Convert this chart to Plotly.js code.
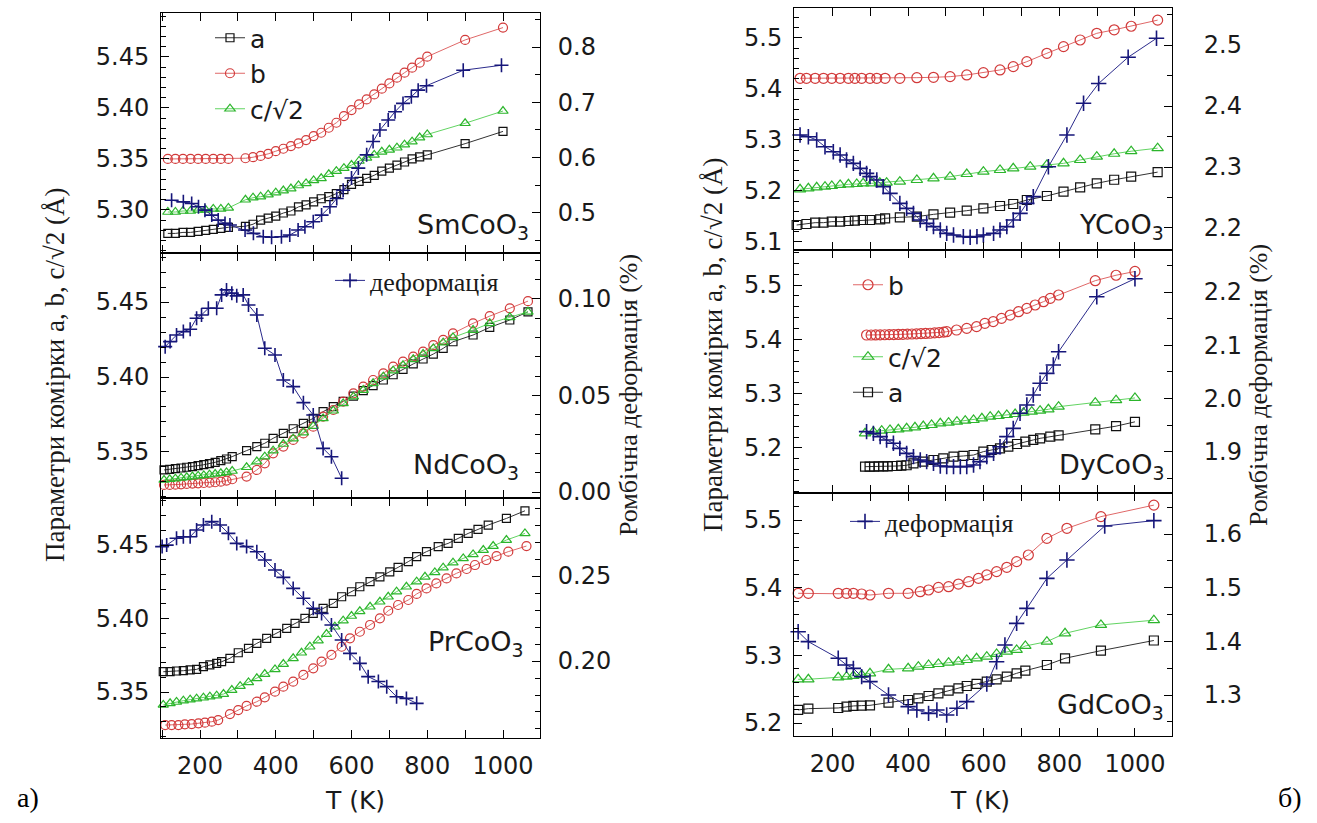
<!DOCTYPE html>
<html>
<head>
<meta charset="utf-8">
<script src="https://cdn.plot.ly/plotly-3.0.1.min.js"></script>
<style>
  html, body { margin: 0; padding: 0; background: #ffffff; }
  #chart { width: 1317px; height: 823px; }
</style>
</head>
<body>
<div id="chart"></div>
<script>
// ---------------- DATA ----------------
const seriesNames = ['a', 'b', 'c/√2', 'деформація'];
const compounds = ['SmCoO<sub>3</sub>', 'NdCoO<sub>3</sub>', 'PrCoO<sub>3</sub>', 'YCoO<sub>3</sub>', 'DyCoO<sub>3</sub>', 'GdCoO<sub>3</sub>'];

// SmCoO3
const sm_T = [115,135,155,175,195,215,235,255,275,320,340,360,380,400,420,440,460,480,500,520,540,560,580,600,620,640,660,680,700,720,740,760,780,800,900,1000];
const sm_a = [5.277,5.277,5.278,5.278,5.279,5.280,5.281,5.282,5.283,5.284,5.286,5.290,5.292,5.294,5.297,5.299,5.303,5.305,5.308,5.311,5.313,5.316,5.320,5.325,5.328,5.331,5.334,5.338,5.341,5.344,5.347,5.350,5.352,5.354,5.365,5.377];
const sm_b = [5.350,5.350,5.350,5.350,5.350,5.350,5.350,5.350,5.350,5.3507,5.3517,5.353,5.355,5.3576,5.360,5.3626,5.3652,5.3685,5.3724,5.3757,5.3806,5.3855,5.392,5.3979,5.4035,5.4084,5.4133,5.4189,5.4241,5.4297,5.4346,5.4395,5.4444,5.4503,5.4667,5.4788];
const sm_c = [5.298,5.298,5.299,5.299,5.300,5.300,5.301,5.301,5.302,5.310,5.312,5.313,5.315,5.317,5.319,5.321,5.324,5.326,5.329,5.331,5.335,5.338,5.341,5.344,5.348,5.351,5.354,5.357,5.359,5.361,5.364,5.367,5.371,5.374,5.385,5.397];
const sm_d_T = [125,156,178,196,213,231,248,266,279,319,341,367,389,415,437,459,477,499,521,543,561,578,600,618,640,657,675,697,715,736,758,776,798,895,996];
const sm_d = [0.523,0.520,0.517,0.511,0.505,0.496,0.487,0.481,0.478,0.469,0.463,0.457,0.456,0.457,0.460,0.469,0.475,0.484,0.496,0.511,0.526,0.541,0.563,0.581,0.605,0.629,0.650,0.668,0.683,0.698,0.710,0.722,0.730,0.758,0.767];

// NdCoO3
const nd_T = [105,120,135,150,165,180,195,210,225,240,255,270,285,323,350,371,393,420,446,473,499,525,552,578,605,631,657,684,710,736,763,789,816,842,868,921,965,1018,1066];
const nd_a = [5.3380,5.3384,5.3389,5.3393,5.3398,5.3402,5.3409,5.3415,5.3422,5.3431,5.3442,5.3453,5.3469,5.3509,5.3536,5.3558,5.3591,5.3624,5.3655,5.3691,5.3724,5.3769,5.3802,5.3838,5.3873,5.3909,5.3942,5.3980,5.4015,5.4051,5.4087,5.4120,5.4153,5.4191,5.4235,5.4280,5.4331,5.4380,5.4435];
const nd_b = [5.3280,5.3280,5.3282,5.3284,5.3287,5.3289,5.3291,5.3293,5.3295,5.3298,5.3302,5.3309,5.3318,5.3336,5.3380,5.3424,5.3491,5.3536,5.3580,5.3624,5.3669,5.3736,5.3780,5.3836,5.3891,5.3936,5.3980,5.4024,5.4069,5.4102,5.4136,5.4169,5.4213,5.4247,5.4291,5.4358,5.4406,5.4458,5.4506];
const nd_c = [5.3313,5.3318,5.3322,5.3327,5.3331,5.3336,5.3340,5.3344,5.3349,5.3353,5.3358,5.3364,5.3373,5.3398,5.3436,5.3469,5.3509,5.3553,5.3589,5.3629,5.3673,5.3724,5.3775,5.3824,5.3869,5.3913,5.3958,5.4002,5.4042,5.4078,5.4118,5.4153,5.4191,5.4229,5.4264,5.4313,5.4358,5.4398,5.4435];
const nd_d_T = [108,121,138,156,174,191,204,222,244,257,270,284,297,314,328,350,371,398,420,446,473,499,525,547,574];
const nd_d = [0.0753,0.0779,0.0813,0.0831,0.0843,0.0900,0.0917,0.0952,0.0952,0.1021,0.1047,0.1030,0.1016,0.1021,0.0969,0.0917,0.0745,0.0710,0.0580,0.0546,0.0463,0.0399,0.0226,0.0183,0.0071];

// PrCoO3
const pr_a_T = [103,121,138,156,174,191,209,226,244,257,279,301,328,350,376,402,429,451,477,499,525,552,574,600,622,649,675,701,723,750,772,798,829,855,882,908,934,961,1009,1058];
const pr_a = [5.3638,5.3638,5.3643,5.3645,5.3650,5.3654,5.3672,5.3684,5.3695,5.3706,5.3729,5.3767,5.3797,5.3831,5.3865,5.3899,5.3933,5.3967,5.4001,5.4035,5.4069,5.4103,5.4148,5.4182,5.4216,5.4251,5.4284,5.4318,5.4348,5.4387,5.4421,5.4455,5.4489,5.4511,5.4545,5.4579,5.4606,5.4636,5.4681,5.4733];
const pr_b_T = [108,125,143,160,178,196,213,231,248,279,301,323,350,371,398,420,446,473,499,521,547,574,596,622,649,675,697,723,750,772,798,824,851,877,904,926,956,983,1014,1062];
const pr_b = [5.3275,5.3275,5.3275,5.3280,5.3282,5.3287,5.3291,5.3298,5.3309,5.3350,5.3377,5.3405,5.3434,5.3464,5.3502,5.3536,5.3570,5.3616,5.3661,5.3706,5.3752,5.3808,5.3865,5.3910,5.3956,5.4001,5.4053,5.4092,5.4126,5.4167,5.4205,5.4239,5.4273,5.4307,5.4337,5.4364,5.4398,5.4425,5.4455,5.4493];
const pr_c_T = [103,121,138,156,174,191,209,226,244,262,284,306,328,350,371,398,420,446,468,490,512,534,556,578,600,622,649,675,697,719,745,772,794,820,842,868,895,921,948,974,1009,1058];
const pr_c = [5.3412,5.3423,5.3432,5.3441,5.3448,5.3455,5.3461,5.3468,5.3475,5.3486,5.3513,5.3540,5.3565,5.3593,5.3622,5.3654,5.3690,5.3729,5.3767,5.3808,5.3849,5.3894,5.3944,5.3985,5.4017,5.4049,5.4080,5.4114,5.4148,5.4183,5.4216,5.4251,5.4284,5.4314,5.4346,5.4380,5.4409,5.4436,5.4466,5.4493,5.4534,5.4579];
const pr_d_T = [100,112,138,156,174,191,209,231,253,275,297,323,350,371,398,420,446,473,499,521,547,574,596,622,644,671,693,719,745,772];
const pr_d = [0.2673,0.2682,0.2722,0.2731,0.2731,0.2771,0.2800,0.2820,0.2800,0.2751,0.2692,0.2673,0.2643,0.2594,0.2535,0.2492,0.2427,0.2369,0.2310,0.2280,0.2212,0.2124,0.2045,0.1986,0.1908,0.1879,0.1849,0.1790,0.1780,0.1751];

// YCoO3
const y_a_T = [105,131,154,176,198,220,242,259,280,299,326,339,378,423,467,511,555,599,643,678,714,767,811,855,899,945,990,1060];
const y_a = [5.1333,5.1353,5.1379,5.1379,5.1399,5.1399,5.1412,5.1418,5.1431,5.1431,5.1444,5.1464,5.1484,5.1497,5.1542,5.1575,5.1614,5.1660,5.1706,5.1745,5.1823,5.1902,5.1987,5.2072,5.2150,5.222,5.228,5.237];
const y_b_T = [114,131,154,176,198,220,242,259,277,299,317,339,378,423,467,511,555,599,643,678,714,767,811,855,899,945,990,1060];
const y_b = [5.421,5.421,5.421,5.421,5.421,5.421,5.421,5.421,5.421,5.421,5.421,5.421,5.421,5.4222,5.4229,5.4242,5.4275,5.4320,5.4373,5.4438,5.4536,5.4700,5.4830,5.4961,5.5092,5.516,5.523,5.535];
const y_c_T = [114,136,158,180,198,220,242,264,281,303,325,343,378,423,467,511,555,599,643,678,723,767,811,855,899,945,990,1060];
const y_c = [5.2033,5.2052,5.2072,5.2085,5.2098,5.2118,5.2131,5.2137,5.2150,5.2150,5.2163,5.2163,5.2183,5.2216,5.2248,5.2281,5.2333,5.2379,5.2412,5.2444,5.2477,5.2510,5.2542,5.2608,5.2673,5.273,5.278,5.284];
const y_d_T = [114,136,158,180,202,220,237,255,273,290,299,317,334,352,378,396,414,432,449,467,485,502,520,546,564,582,599,626,643,661,678,696,714,731,771,820,864,904,982,1057];
const y_d = [2.3525,2.3497,2.3443,2.3333,2.3251,2.3197,2.3115,2.3060,2.2978,2.2896,2.2842,2.2787,2.2678,2.2568,2.2404,2.2322,2.2240,2.2131,2.2076,2.2022,2.1967,2.1912,2.1885,2.1858,2.1847,2.1858,2.1885,2.1912,2.1967,2.2022,2.2131,2.2240,2.2404,2.2514,2.3005,2.3525,2.4044,2.4370,2.480,2.511];

// DyCoO3
const dy_a_T = [286,298,310,322,334,346,358,370,382,396,414,440,467,493,520,546,573,599,621,643,665,688,710,731,749,776,798,895,950,1000];
const dy_a = [5.1654,5.1654,5.1654,5.1660,5.1660,5.1660,5.1666,5.1666,5.1672,5.1680,5.1716,5.1746,5.1777,5.1808,5.1838,5.1851,5.1869,5.1931,5.1961,5.1992,5.2023,5.2072,5.2115,5.2146,5.2176,5.2207,5.2230,5.2342,5.240,5.248];
const dy_b_T = [290,302,314,326,338,350,362,374,386,398,410,422,434,446,458,470,482,494,502,528,555,581,603,625,647,670,692,714,736,758,776,798,895,950,1000];
const dy_b = [5.4079,5.4079,5.4080,5.4082,5.4084,5.4086,5.4088,5.4090,5.4092,5.4095,5.4098,5.4101,5.4104,5.4108,5.4112,5.4118,5.4124,5.4132,5.4140,5.4171,5.4202,5.4233,5.4294,5.4325,5.4386,5.4447,5.4509,5.4570,5.4632,5.4693,5.4754,5.4816,5.5080,5.518,5.525];
const dy_c_T = [286,308,330,352,374,396,418,440,462,485,507,529,551,573,595,617,639,661,683,705,727,749,771,798,895,950,1000];
const dy_c = [5.2268,5.2299,5.2317,5.2330,5.2342,5.2360,5.2379,5.2403,5.2422,5.2452,5.2465,5.2483,5.2501,5.2514,5.2544,5.2575,5.2587,5.2606,5.2624,5.2649,5.2667,5.2686,5.2710,5.2759,5.2833,5.288,5.292];
const dy_d_T = [290,308,326,343,361,378,396,414,432,449,467,485,502,520,538,555,573,590,608,626,643,661,678,696,714,731,749,767,784,798,899,1000];
const dy_d = [1.9380,1.9348,1.9286,1.9223,1.9161,1.9067,1.8973,1.8911,1.8848,1.8817,1.8785,1.8735,1.8723,1.8723,1.8723,1.8723,1.8754,1.8817,1.8911,1.8973,1.9098,1.9286,1.9442,1.9724,1.9880,2.0068,2.0287,2.0474,2.0630,2.0880,2.1912,2.225];

// GdCoO3
const gd_T = [109,136,215,237,255,277,299,348,400,427,454,480,507,533,555,581,608,634,661,687,710,767,815,910,1050];
const gd_a = [5.2194,5.2213,5.2223,5.2243,5.2253,5.2258,5.2262,5.2302,5.2341,5.2366,5.2400,5.2440,5.2479,5.2514,5.2548,5.2578,5.2612,5.2646,5.2686,5.2735,5.2774,5.2858,5.2957,5.307,5.322];
const gd_c = [5.2647,5.2647,5.2676,5.2686,5.2696,5.2711,5.2735,5.2794,5.2809,5.2834,5.2858,5.2873,5.2893,5.2907,5.2932,5.2957,5.2981,5.3021,5.3055,5.3080,5.3139,5.3203,5.3326,5.345,5.352];
const gd_b_T = [109,136,215,237,255,277,299,348,400,432,454,480,507,533,560,586,608,634,661,687,718,767,820,910,1050];
const gd_b = [5.3917,5.3917,5.3917,5.3917,5.3917,5.3907,5.3892,5.3917,5.3917,5.3941,5.3966,5.4005,5.4015,5.4054,5.4089,5.4138,5.4188,5.4237,5.4301,5.4385,5.4483,5.4729,5.4877,5.505,5.522];
const gd_d_T = [109,136,215,237,255,277,299,348,400,423,454,476,502,529,555,608,634,656,687,714,767,820,920,1050];
const gd_d = [1.4181,1.3995,1.3685,1.3560,1.3498,1.3343,1.3250,1.3002,1.2785,1.2723,1.2660,1.2723,1.2629,1.2754,1.2878,1.3207,1.3622,1.3933,1.4336,1.4616,1.5174,1.5516,1.615,1.625];

// Texts
const xTitle = 'T (K)';
const yTitleLeft = 'Параметри комірки a, b, c/√2 (Å)';
const yTitleRight = 'Ромбічна деформація (%)';
const figLabels = ['а)', 'б)'];

// ---------------- LAYOUT / STYLE ----------------
const W = 1317, H = 823;
const SANS = 'DejaVu Sans';
const SERIF = 'Liberation Serif';

const panels = [
  {id:1, xd:[161,540], yd:[13,253],  xr:[97,1097.7], yl:[5.2578,5.4931], yr:[0.4275,0.8615], ldt:0.05, lfmt:'.2f', lmin:0.01, rdt:0.1,  rfmt:'.1f', rmin:0.05, xl:false, small:true},
  {id:2, xd:[161,540], yd:[253,498], xr:[97,1097.7], yl:[5.3193,5.4827], yr:[-0.0031,0.1238], ldt:0.05, lfmt:'.2f', lmin:0.01, rdt:0.05, rfmt:'.2f', rmin:0.01, xl:false, small:true},
  {id:3, xd:[161,540], yd:[498,738], xr:[97,1097.7], yl:[5.3187,5.4820], yr:[0.1547,0.2959], ldt:0.05, lfmt:'.2f', lmin:0.01, rdt:0.05, rfmt:'.2f', rmin:0.01, xl:true, small:true},
  {id:4, xd:[794,1172], yd:[8,250],  xr:[98,1098], yl:[5.0843,5.5588], yr:[2.1639,2.5607], ldt:0.1, lfmt:'.1f', lmin:0.02, rdt:0.1, rfmt:'.1f', rmin:0.05, xl:false, small:false},
  {id:5, xd:[794,1172], yd:[250,493],xr:[98,1098], yl:[5.1169,5.5645], yr:[1.8229,2.2788], ldt:0.1, lfmt:'.1f', lmin:0.02, rdt:0.1, rfmt:'.1f', rmin:0.05, xl:false, small:false},
  {id:6, xd:[794,1172], yd:[493,736],xr:[98,1098], yl:[5.1809,5.5399], yr:[1.2238,1.6764], ldt:0.1, lfmt:'.1f', lmin:0.02, rdt:0.1, rfmt:'.1f', rmin:0.05, xl:true, small:false}
];

const ref = (l, n) => n === 1 ? l : l + n;
const key = (l, n) => n === 1 ? l + 'axis' : l + 'axis' + n;
const tickFont = {family: SANS, size: 24, color: '#1a1a1a'};

const layout = {
  width: W, height: H,
  margin: {l:0, r:0, t:0, b:0},
  paper_bgcolor: '#ffffff', plot_bgcolor: 'rgba(0,0,0,0)',
  font: {family: SANS, size: 24, color: '#1a1a1a'},
  showlegend: true,
  annotations: []
};

panels.forEach(p => {
  const yl = 2*p.id - 1, yr = 2*p.id;
  layout[key('x', p.id)] = {
    domain: [p.xd[0]/W, p.xd[1]/W], range: p.xr, anchor: ref('y', yl),
    showline: true, linecolor: '#000', linewidth: 1, mirror: 'ticks',
    ticks: 'inside', ticklen: 8, tickwidth: 1, tickcolor: '#000',
    tick0: 0, dtick: 200, showticklabels: p.xl, tickfont: tickFont, ticklabelstandoff: 6,
    minor: {ticks: 'inside', ticklen: 8, tickwidth: 1, tickcolor: '#000', tick0: 0, dtick: 100},
    showgrid: false, zeroline: false, fixedrange: true
  };
  layout[key('y', yl)] = {
    domain: [1 - p.yd[1]/H, 1 - p.yd[0]/H], range: p.yl, anchor: ref('x', p.id), side: 'left',
    showline: true, linecolor: '#000', linewidth: 1,
    ticks: 'inside', ticklen: 8, tickwidth: 1, tickcolor: '#000',
    tick0: 0, dtick: p.ldt, tickformat: p.lfmt, tickfont: tickFont, ticklabelstandoff: 6,
    minor: {ticks: 'inside', ticklen: 5, tickwidth: 1, tickcolor: '#000', tick0: 0, dtick: p.lmin},
    showgrid: false, zeroline: false, fixedrange: true
  };
  layout[key('y', yr)] = {
    range: p.yr, anchor: ref('x', p.id), overlaying: ref('y', yl), side: 'right',
    showline: true, linecolor: '#000', linewidth: 1,
    ticks: 'inside', ticklen: 8, tickwidth: 1, tickcolor: '#000',
    tick0: 0, dtick: p.rdt, tickformat: p.rfmt, tickfont: tickFont, ticklabelstandoff: p.small ? 12 : 26,
    minor: {ticks: 'inside', ticklen: 5, tickwidth: 1, tickcolor: '#000', tick0: 0, dtick: p.rmin},
    showgrid: false, zeroline: false, fixedrange: true
  };
});

const STY = {
  a: {symbol: 'square-open',      mcolor: '#111111', lcolor: '#333333', size: [8, 9]},
  b: {symbol: 'circle-open',      mcolor: '#d23a3a', lcolor: '#e06868', size: [9, 10]},
  c: {symbol: 'triangle-up-open', mcolor: '#2cb52c', lcolor: '#62d462', size: [9, 10]},
  d: {symbol: 'cross-thin-open',  mcolor: '#16167a', lcolor: '#2b2b8c', size: [10, 11]}
};
const NAME = {a: seriesNames[0], b: seriesNames[1], c: seriesNames[2], d: seriesNames[3]};

const traces = [];
function add(pid, kind, T, V, legendId, rank) {
  const p = panels[pid - 1];
  const s = STY[kind];
  const yAx = kind === 'd' ? ref('y', 2*pid) : ref('y', 2*pid - 1);
  traces.push({
    type: 'scatter', mode: 'lines+markers', x: T, y: V,
    xaxis: ref('x', pid), yaxis: yAx,
    name: NAME[kind],
    line: {color: s.lcolor, width: 1},
    marker: {symbol: s.symbol, size: p.small ? s.size[0] : s.size[1], color: s.mcolor,
             line: {color: s.mcolor, width: kind === 'd' ? 1.6 : 1.2}},
    cliponaxis: false,
    showlegend: !!legendId,
    legend: legendId || 'legend',
    legendrank: rank || 1000
  });
}

// SmCoO3 (legend: a, b, c)
add(1, 'a', sm_T, sm_a, 'legend', 1);
add(1, 'b', sm_T, sm_b, 'legend', 2);
add(1, 'c', sm_T, sm_c, 'legend', 3);
add(1, 'd', sm_d_T, sm_d);
// NdCoO3 (legend: deformation)
add(2, 'a', nd_T, nd_a);
add(2, 'b', nd_T, nd_b);
add(2, 'c', nd_T, nd_c);
add(2, 'd', nd_d_T, nd_d, 'legend2', 1);
// PrCoO3
add(3, 'a', pr_a_T, pr_a);
add(3, 'c', pr_c_T, pr_c);
add(3, 'b', pr_b_T, pr_b);
add(3, 'd', pr_d_T, pr_d);
// YCoO3
add(4, 'a', y_a_T, y_a);
add(4, 'b', y_b_T, y_b);
add(4, 'c', y_c_T, y_c);
add(4, 'd', y_d_T, y_d);
// DyCoO3 (legends: b | c, a)
add(5, 'a', dy_a_T, dy_a, 'legend5', 2);
add(5, 'b', dy_b_T, dy_b, 'legend3', 1);
add(5, 'c', dy_c_T, dy_c, 'legend5', 1);
add(5, 'd', dy_d_T, dy_d);
// GdCoO3 (legend: deformation)
add(6, 'a', gd_T, gd_a);
add(6, 'b', gd_b_T, gd_b);
add(6, 'c', gd_T, gd_c);
add(6, 'd', gd_d_T, gd_d, 'legend4', 1);

const legBase = {xanchor: 'left', yanchor: 'top', bgcolor: 'rgba(0,0,0,0)', borderwidth: 0,
                 tracegroupgap: 0, itemwidth: 30, traceorder: 'normal'};
const legSans = {family: SANS, size: 25, color: '#1a1a1a'};
const legSerif = {family: SERIF, size: 26, color: '#1a1a1a'};
layout.legend  = Object.assign({}, legBase, {x: 210/W, y: 1 - 15/H,  font: legSans});
layout.legend2 = Object.assign({}, legBase, {x: 330/W, y: 1 - 257/H, font: legSerif});
layout.legend3 = Object.assign({}, legBase, {x: 848/W, y: 1 - 262/H, font: legSans});
layout.legend5 = Object.assign({}, legBase, {x: 848/W, y: 1 - 334/H, font: legSans});
layout.legend4 = Object.assign({}, legBase, {x: 845/W, y: 1 - 498/H, font: legSerif});

// compound labels
const compPos = [[531,226],[521,466],[526,643],[1166,226],[1166,466],[1166,706]];
compounds.forEach((c, i) => {
  layout.annotations.push({text: c, xref: 'paper', yref: 'paper', x: compPos[i][0]/W, y: 1 - compPos[i][1]/H,
    xanchor: 'right', yanchor: 'middle', showarrow: false, font: {family: SANS, size: 27, color: '#1a1a1a'}});
});
// axis titles
[[355, 800], [980, 800]].forEach(pt => layout.annotations.push({text: xTitle, xref: 'paper', yref: 'paper',
  x: pt[0]/W, y: 1 - pt[1]/H, xanchor: 'center', yanchor: 'middle', showarrow: false, font: {family: SANS, size: 25, color: '#1a1a1a'}}));
[[55, 375], [713, 345]].forEach(pt => layout.annotations.push({text: yTitleLeft, xref: 'paper', yref: 'paper',
  x: pt[0]/W, y: 1 - pt[1]/H, xanchor: 'center', yanchor: 'middle', textangle: -90, showarrow: false, font: {family: SERIF, size: 27, color: '#1a1a1a'}}));
[[628, 395], [1258, 385]].forEach(pt => layout.annotations.push({text: yTitleRight, xref: 'paper', yref: 'paper',
  x: pt[0]/W, y: 1 - pt[1]/H, xanchor: 'center', yanchor: 'middle', textangle: -90, showarrow: false, font: {family: SERIF, size: 26, color: '#1a1a1a'}}));
// figure labels
[[28, 797], [1290, 797]].forEach((pt, i) => layout.annotations.push({text: figLabels[i], xref: 'paper', yref: 'paper',
  x: pt[0]/W, y: 1 - pt[1]/H, xanchor: 'center', yanchor: 'middle', showarrow: false, font: {family: SERIF, size: 28, color: '#000'}}));

Plotly.newPlot('chart', traces, layout, {staticPlot: true, displayModeBar: false});
</script>
</body>
</html>
